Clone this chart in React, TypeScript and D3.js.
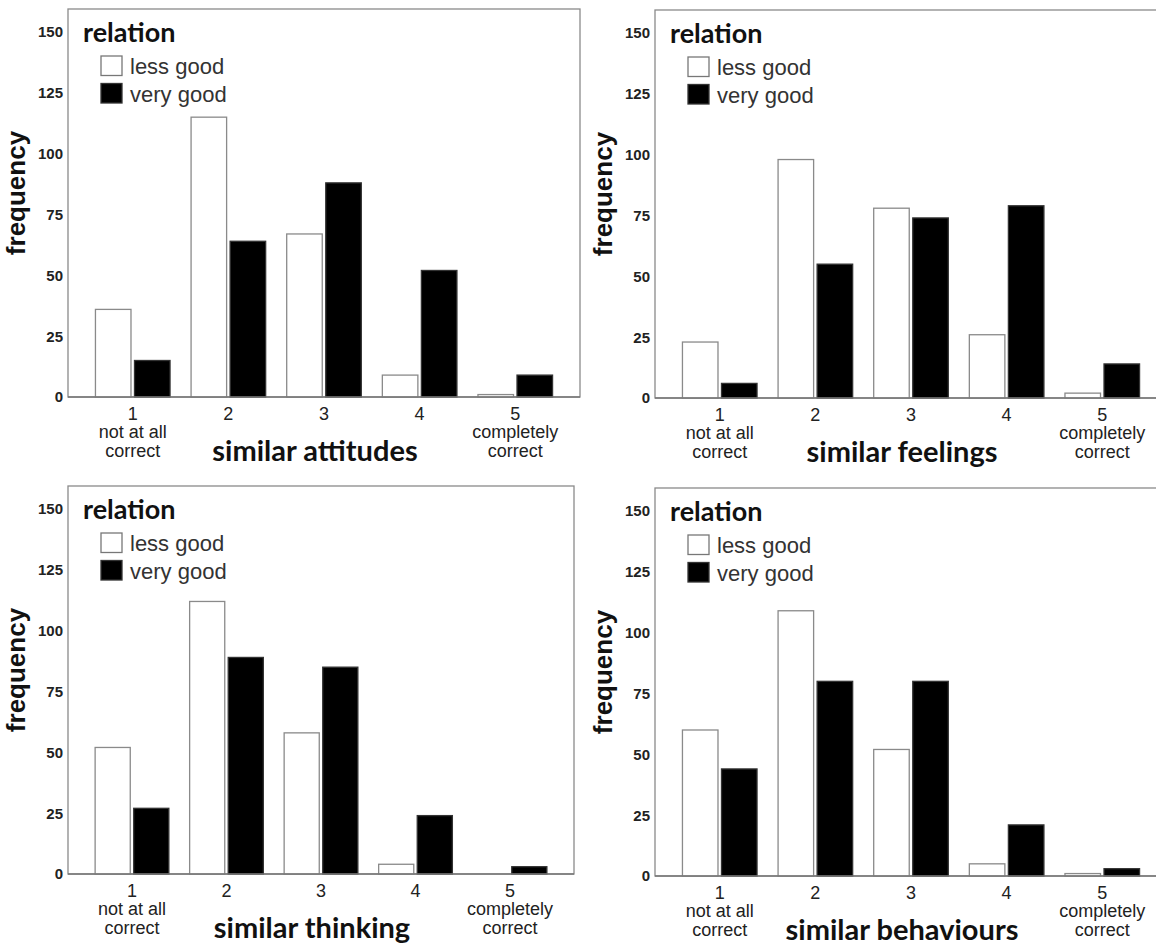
import React from "react";
import * as d3 from "d3";

// categories and series
const categories = ["1", "2", "3", "4", "5"];
const categoryNotes = [["not at all", "correct"], [], [], [], ["completely", "correct"]];
const series = ["less good", "very good"];
const yTicks = [0, 25, 50, 75, 100, 125, 150];

// frequencies
const attitudesLess = [36, 115, 67, 9, 1];
const attitudesVery = [15, 64, 88, 52, 9];
const feelingsLess = [23, 98, 78, 26, 2];
const feelingsVery = [6, 55, 74, 79, 14];
const thinkingLess = [52, 112, 58, 4, 0];
const thinkingVery = [27, 89, 85, 24, 3];
const behavioursLess = [60, 109, 52, 5, 1];
const behavioursVery = [44, 80, 80, 21, 3];

const panels = [
  { title: "similar attitudes", values: [attitudesLess, attitudesVery] },
  { title: "similar feelings", values: [feelingsLess, feelingsVery] },
  { title: "similar thinking", values: [thinkingLess, thinkingVery] },
  { title: "similar behaviours", values: [behavioursLess, behavioursVery] },
];

// frame of each panel: left, right, top, baseline
const frames = [
  { x0: 68, x1: 580, top: 9, base: 397 },
  { x0: 655, x1: 1167, top: 10, base: 398 },
  { x0: 68, x1: 574, top: 486, base: 874 },
  { x0: 655, x1: 1167, top: 488, base: 876 },
];

const ARIAL = "Liberation Sans, Arial, sans-serif";
const TITLE_FONT = "Lato, 'Open Sans', sans-serif";

const Panel = ({ panel, frame }) => {
  const { x0, x1, top, base } = frame;

  const x = d3
    .scaleBand()
    .domain(categories)
    .range([x0, x1])
    .paddingInner(0.22)
    .paddingOuter(0.287);

  const xInner = d3
    .scaleBand()
    .domain(series)
    .range([0, x.bandwidth()])
    .paddingInner(0.09);

  const y = d3.scaleLinear().domain([0, 150]).range([base, base - 365]);

  const midX = (x0 + x1) / 2;

  return (
    <g>
      {/* frame */}
      <rect
        x={x0}
        y={top}
        width={x1 - x0}
        height={base - top}
        fill="white"
        stroke="#8a8a8a"
        strokeWidth={1.3}
      />

      {/* y tick labels */}
      {yTicks.map((t) => (
        <text
          key={t}
          x={x0 - 5}
          y={y(t)}
          dy="0.36em"
          textAnchor="end"
          fontFamily={ARIAL}
          fontWeight="bold"
          fontSize={15}
          fill="#222"
        >
          {t}
        </text>
      ))}

      {/* bars */}
      {categories.map((c, i) => (
        <g key={c} transform={`translate(${x(c)},0)`}>
          {series.map((s, j) => {
            const v = panel.values[j][i];
            return (
              <rect
                key={s}
                x={xInner(s)}
                y={y(v)}
                width={xInner.bandwidth()}
                height={base - y(v)}
                fill={j === 0 ? "white" : "black"}
                stroke={j === 0 ? "#8a8a8a" : "#333"}
                strokeWidth={1.3}
              />
            );
          })}
        </g>
      ))}

      {/* baseline */}
      <line x1={x0} x2={x1} y1={base} y2={base} stroke="#777" strokeWidth={1.5} />

      {/* category labels */}
      {categories.map((c, i) => {
        const cx = x(c) + x.bandwidth() / 2;
        return (
          <text
            key={c}
            x={cx}
            textAnchor="middle"
            fontFamily={ARIAL}
            fontSize={18}
            fill="#222"
          >
            <tspan x={cx} y={base + 23}>
              {c}
            </tspan>
            {categoryNotes[i].map((n, k) => (
              <tspan key={k} x={cx} y={base + 41 + k * 18.5}>
                {n}
              </tspan>
            ))}
          </text>
        );
      })}

      {/* x title */}
      <text
        x={midX - 9}
        y={base + 64}
        textAnchor="middle"
        fontFamily={TITLE_FONT}
        fontWeight="bold"
        fontSize={29}
        fill="#111"
      >
        {panel.title}
      </text>

      {/* y title */}
      <text
        transform={`translate(${x0 - 43},${base - 204}) rotate(-90)`}
        textAnchor="middle"
        fontFamily={ARIAL}
        fontWeight="bold"
        fontSize={26}
        fill="#111"
      >
        frequency
      </text>

      {/* legend */}
      <text
        x={x0 + 15}
        y={top + 33}
        fontFamily={TITLE_FONT}
        fontWeight="bold"
        fontSize={27}
        fill="#111"
      >
        relation
      </text>
      {series.map((s, j) => (
        <g key={s}>
          <rect
            x={x0 + 33}
            y={top + 47 + j * 27.5}
            width={21}
            height={19.5}
            fill={j === 0 ? "white" : "black"}
            stroke={j === 0 ? "#777" : "#333"}
            strokeWidth={1.3}
          />
          <text
            x={x0 + 62}
            y={top + 65 + j * 27.5}
            fontFamily={ARIAL}
            fontSize={22}
            fill="#333"
          >
            {s}
          </text>
        </g>
      ))}
    </g>
  );
};

export default function App() {
  return (
    <svg
      width={1156}
      height={946}
      style={{ position: "absolute", left: 0, top: 0, background: "white" }}
    >
      {panels.map((p, i) => (
        <Panel key={p.title} panel={p} frame={frames[i]} />
      ))}
    </svg>
  );
}
